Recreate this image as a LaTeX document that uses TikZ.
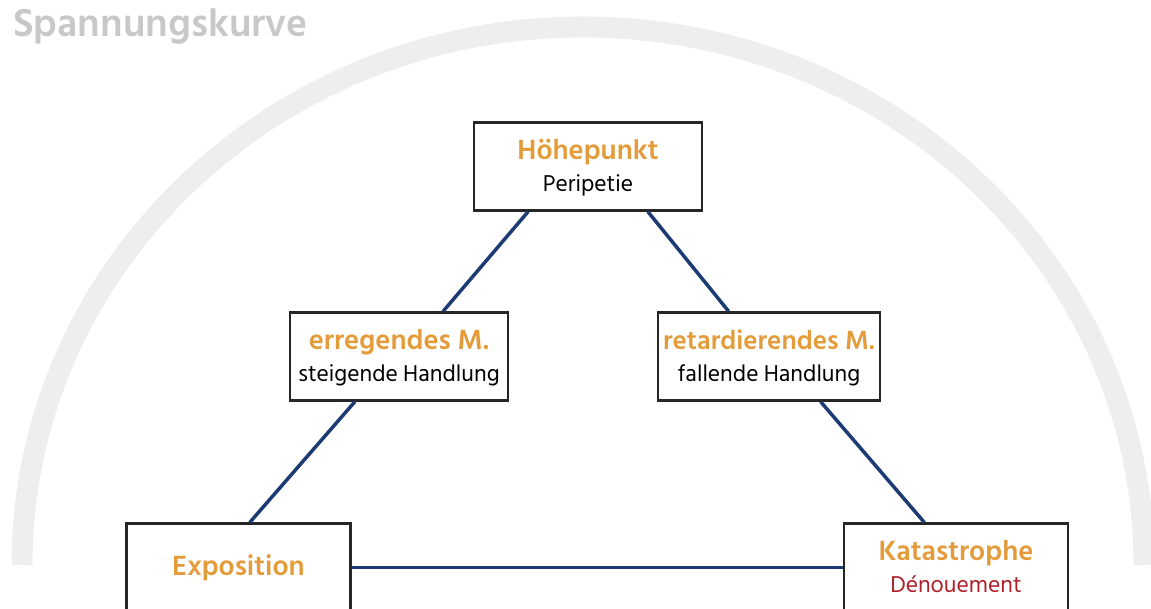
\documentclass[tikz,border=0pt]{standalone}
\usepackage{fontspec}
\setmainfont{Hind Siliguri}
\newfontface\semibd{Hind Siliguri SemiBold}
\usepackage{tikz}
\usetikzlibrary{positioning, calc}

\definecolor{peakorange}{RGB}{228,156,58}
\definecolor{denred}{RGB}{176,32,42}
\definecolor{plotnavy}{RGB}{28,59,114}
\definecolor{arcgrey}{RGB}{238,238,238}
\definecolor{titlegrey}{RGB}{200,200,200}

\newcommand{\headline}[2][28.5]{{\color{peakorange}\fontsize{#1}{32}\semibd\rule[-8pt]{0pt}{33pt}#2}}
\newcommand{\subline}[1]{#1\rule[-6pt]{0pt}{6pt}}

\tikzset{
  stage/.style={draw=black!85, line width=2.2pt, fill=white, minimum width=224pt,
    minimum height=88pt, inner sep=2pt, align=center, font=\fontsize{23.5}{32}\selectfont},
  link/.style={draw=plotnavy, line width=3.5pt},
  curve/.style={draw=arcgrey, line width=21pt}
}

\begin{document}
\begin{tikzpicture}[x=1pt, y=1pt, on grid]
\clip (0,0) rectangle (1151,609);
\useasboundingbox (0,0) rectangle (1151,609);

% Spannungsbogen
\coordinate (arcstart) at (22,44);
\draw[curve] (arcstart) arc[start angle=180, end angle=0, x radius=561, y radius=538];
\node[anchor=base west, inner sep=0, text=titlegrey, font=\fontsize{40}{40}\semibd] (title) at (13,572) {Spannungskurve};

\node[stage, minimum width=228pt] (peak) at (588,442.5) {\headline{Höhepunkt}\\\subline{Peripetie}};
\node[stage, minimum width=218pt, below left=190pt and 189pt of peak] (rise) {\headline{erregendes M.}\\\subline{steigende Handlung}};
\node[stage, minimum width=222pt, below right=190pt and 181pt of peak] (fall) {\headline[27]{retardierendes M.}\\\subline{fallende Handlung}};
\node[stage, below left=211pt and 160.5pt of rise] (expo) {\headline{Exposition}};
\node[stage, right=717.5pt of expo] (cata) {\headline{Katastrophe}\\\subline{\color{denred}Dénouement}};

\draw[link] ($(peak.south west)!0.24!(peak.south east)$) -- ($(rise.north west)!0.70!(rise.north east)$);
\draw[link] ($(peak.south west)!0.76!(peak.south east)$) -- ($(fall.north west)!0.32!(fall.north east)$);
\draw[link] ($(rise.south west)!0.30!(rise.south east)$) -- ($(expo.north west)!0.55!(expo.north east)$);
\draw[link] ($(fall.south west)!0.73!(fall.south east)$) -- ($(cata.north west)!0.36!(cata.north east)$);
\draw[link] (expo) -- (cata);
\end{tikzpicture}
\end{document}
